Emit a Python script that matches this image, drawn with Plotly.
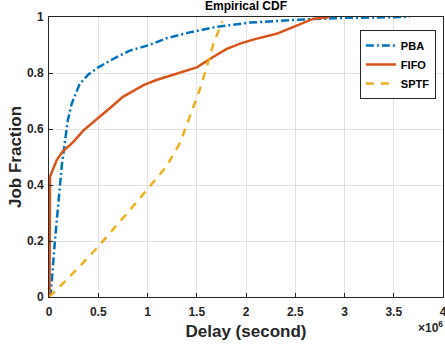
import plotly.graph_objects as go

pba_x = [0, 0.02, 0.06, 0.1, 0.13, 0.16, 0.19, 0.23, 0.31, 0.4, 0.5, 0.65, 0.82, 1.02, 1.2, 1.43, 1.7, 2.04, 2.51, 3.0, 3.66]
pba_y = [0, 0.02, 0.2, 0.36, 0.47, 0.55, 0.63, 0.69, 0.76, 0.795, 0.82, 0.85, 0.88, 0.9, 0.925, 0.945, 0.965, 0.98, 0.99, 0.997, 1.0]

fifo_x = [0, 0.005, 0.01, 0.04, 0.08, 0.14, 0.245, 0.35, 0.49, 0.62, 0.75, 0.96, 1.09, 1.25, 1.36, 1.5, 1.67, 1.8, 1.94, 2.1, 2.31, 2.51, 2.68, 2.85]
fifo_y = [0, 0.0, 0.43, 0.455, 0.49, 0.52, 0.553, 0.595, 0.635, 0.675, 0.715, 0.757, 0.775, 0.792, 0.805, 0.82, 0.858, 0.885, 0.905, 0.922, 0.94, 0.968, 0.993, 1.0]

sptf_x = [0, 0.11, 0.3, 0.5, 0.82, 1.04, 1.19, 1.33, 1.43, 1.53, 1.6, 1.67, 1.76]
sptf_y = [0, 0.037, 0.105, 0.18, 0.31, 0.4, 0.465, 0.55, 0.645, 0.74, 0.82, 0.905, 0.985]

x_ticks = [0, 0.5, 1, 1.5, 2, 2.5, 3, 3.5, 4]
y_ticks = [0, 0.2, 0.4, 0.6, 0.8, 1]

FONT = "Liberation Sans, Arial, sans-serif"

fig = go.Figure()
fig.add_trace(go.Scatter(x=[v * 1e6 for v in pba_x], y=pba_y, mode="lines", name="PBA",
                         line=dict(color="#0072BD", width=2.5, dash="8px,3px,2px,3px")))
fig.add_trace(go.Scatter(x=[v * 1e6 for v in fifo_x], y=fifo_y, mode="lines", name="FIFO",
                         line=dict(color="#D95319", width=2.5)))
fig.add_trace(go.Scatter(x=[v * 1e6 for v in sptf_x], y=sptf_y, mode="lines", name="SPTF",
                         line=dict(color="#EDB120", width=2.5, dash="8px,7px")))

fig.update_layout(
    width=445, height=351,
    margin=dict(l=49, r=2, t=17, b=54, autoexpand=False),
    paper_bgcolor="white", plot_bgcolor="white",
    font=dict(family=FONT, size=12, color="#262626", weight="bold"),
    title=dict(text="Empirical CDF", x=0.5, xref="paper", xanchor="center",
               y=1, yref="container", yanchor="top", pad=dict(t=2),
               font=dict(family=FONT, size=12, color="#000000", weight="bold")),
    showlegend=True,
    legend=dict(x=0.789, y=0.954, xanchor="left", yanchor="top",
                bgcolor="white", bordercolor="#262626", borderwidth=1,
                font=dict(family=FONT, size=11, color="#000000", weight="bold"),
                itemwidth=30, tracegroupgap=0),
)
fig.update_xaxes(
    range=[0, 4e6], tickvals=[v * 1e6 for v in x_ticks], ticktext=[str(v) for v in x_ticks],
    showgrid=True, gridcolor="#e3e3e3", gridwidth=1,
    showline=True, linecolor="#262626", linewidth=1, mirror=True,
    ticks="inside", ticklen=4, tickcolor="#262626", zeroline=False,
    ticklabelstandoff=4, ticklabeloverflow="allow", automargin=False,
    title=dict(text="Delay (second)", font=dict(family=FONT, size=17, color="#262626", weight="bold"), standoff=6),
)
fig.update_yaxes(
    range=[0, 1], tickvals=y_ticks, ticktext=["0", "0.2", "0.4", "0.6", "0.8", "1"],
    showgrid=True, gridcolor="#e3e3e3", gridwidth=1,
    showline=True, linecolor="#262626", linewidth=1, mirror=True,
    ticks="inside", ticklen=4, tickcolor="#262626", zeroline=False,
    ticklabelstandoff=2, automargin=False,
    title=dict(text="Job Fraction", font=dict(family=FONT, size=17, color="#262626", weight="bold"), standoff=0),
)
fig.add_annotation(text="×10<sup>6</sup>", xref="paper", yref="paper", x=1.005, y=-0.07,
                   xanchor="right", yanchor="top", showarrow=False,
                   font=dict(family=FONT, size=12, color="#262626", weight="bold"))

fig.write_html("out.html")
